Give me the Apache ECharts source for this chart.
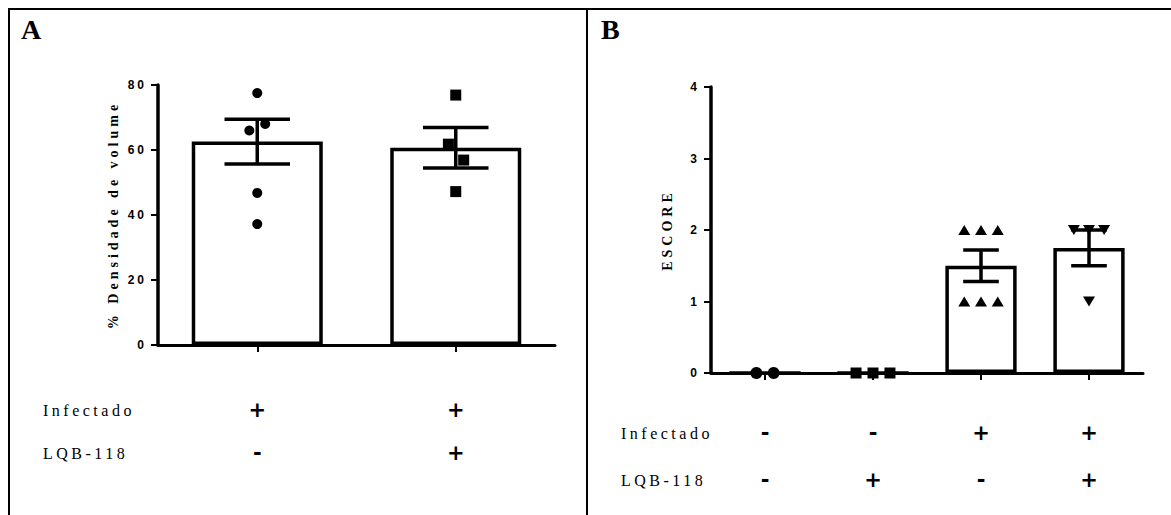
<!DOCTYPE html>
<html>
<head>
<meta charset="utf-8">
<script src="https://cdn.jsdelivr.net/npm/echarts@6/dist/echarts.min.js"></script>
<style>
  html, body { margin: 0; padding: 0; background: #fff; }
  #chart { width: 1171px; height: 515px; }
  /* tracked lettering, as in the figure */
  #chart text[style*="Liberation Sans"] { letter-spacing: 3px; }
  #chart text[style*="Liberation Serif"] { letter-spacing: 3.5px; }
  #chart text[style*="Liberation Serif"][style*="bold"] { letter-spacing: 4px; }
</style>
</head>
<body>
<div id="chart"></div>
<script>
// ---------- Panel A: % Densidade de volume ----------
const infectadoA = ['+', '+'];
const lqbA = ['-', '+'];
const meansA = [62.6, 60.7];
const semA = [6.9, 6.2];
const pointsA = [[77.5, 68, 66, 46.8, 37.2], [76.9, 61.8, 56.9, 47.2]];
const jitterA = [[0, 0.04, -0.04, 0, 0], [0, -0.037, 0.04, 0]];
const ticksA = [0, 20, 40, 60, 80];

// ---------- Panel B: ESCORE ----------
const infectadoB = ['-', '-', '+', '+'];
const lqbB = ['-', '+', '-', '+'];
const meansB = [0, 0, 1.5, 1.75];
const semB = [0, 0, 0.22, 0.25];
const pointsB = [[0, 0], [0, 0, 0], [2, 2, 2, 1, 1, 1], [2, 2, 2, 1]];
const jitterB = [[-0.08, 0.08], [-0.157, 0, 0.157], [-0.155, 0, 0.155, -0.155, 0, 0.155], [-0.14, 0, 0.14, 0]];
const ticksB = [0, 1, 2, 3, 4];

const rowLabels = ['Infectado', 'LQB-118'];

const categoriesA = infectadoA.map((s, i) => s + lqbA[i]);
const categoriesB = infectadoB.map((s, i) => s + lqbB[i]);

const black = '#000';

function errorBarItem(params, api) {
  const i = api.value(0), m = api.value(1), e = api.value(2);
  if (!e) return null;
  const hi = api.coord([i, m + e]);
  const lo = api.coord([i, m - e]);
  const half = api.size([1, 0])[0] * 0.165;
  const st = { stroke: black, lineWidth: 3.5 };
  return {
    type: 'group',
    children: [
      { type: 'line', shape: { x1: hi[0], y1: hi[1], x2: lo[0], y2: lo[1] }, style: st },
      { type: 'line', shape: { x1: hi[0] - half, y1: hi[1], x2: hi[0] + half, y2: hi[1] }, style: st },
      { type: 'line', shape: { x1: lo[0] - half, y1: lo[1], x2: lo[0] + half, y2: lo[1] }, style: st }
    ]
  };
}

function categoryAxis(gridIndex, cats, rowTop, rowBottom, margin, lineHeight) {
  return {
    gridIndex, type: 'category', data: cats, position: 'bottom',
    axisLine: { show: true, onZero: false, lineStyle: { color: black, width: 3 } },
    axisTick: { show: true, alignWithLabel: true, length: 7, lineStyle: { color: black, width: 2 } },
    axisLabel: {
      interval: 0, margin, lineHeight,
      fontSize: 21, fontWeight: 'bold', fontFamily: 'DejaVu Sans', color: black,
      formatter: (v, i) => rowTop[i] + '\n' + rowBottom[i]
    },
    splitLine: { show: false }
  };
}

function jitterAxis(gridIndex, n) {
  return {
    gridIndex, type: 'value', min: -0.5, max: n - 0.5, show: false,
    axisLine: { onZero: false }, splitLine: { show: false }
  };
}

function valueAxis(gridIndex, ticks, name, nameGap) {
  return {
    gridIndex, type: 'value', position: 'left',
    min: ticks[0], max: ticks[ticks.length - 1], interval: ticks[1] - ticks[0],
    name, nameLocation: 'middle', nameGap,
    nameTextStyle: { fontFamily: 'Liberation Serif', fontWeight: 'bold', fontSize: 14, color: black },
    axisLine: { show: true, onZero: false, lineStyle: { color: black, width: 3.5 } },
    axisTick: { show: true, length: 7, lineStyle: { color: black, width: 2 } },
    axisLabel: { fontFamily: 'Liberation Sans', fontWeight: 'bold', fontSize: 12, color: black, margin: 11 },
    splitLine: { show: false }
  };
}

function barSeries(xi, yi, means) {
  return {
    type: 'bar', xAxisIndex: xi, yAxisIndex: yi, data: means, barWidth: '66%', z: 2,
    itemStyle: { color: '#fff', borderColor: black, borderWidth: 3.5 },
    emphasis: { disabled: true }
  };
}

function errorSeries(xi, yi, means, sems) {
  return {
    type: 'custom', xAxisIndex: xi, yAxisIndex: yi, z: 3,
    renderItem: errorBarItem,
    encode: { x: 0, y: 1 },
    data: means.map((m, i) => [i, m, sems[i]])
  };
}

function dotSeries(xi, yi, g, values, jitter, symbol, size, rotate) {
  return {
    type: 'scatter', xAxisIndex: xi, yAxisIndex: yi, z: 4, clip: false,
    symbol, symbolSize: size, symbolRotate: rotate || 0,
    itemStyle: { color: black, opacity: 1 },
    emphasis: { disabled: true },
    data: values.map((v, k) => [g + jitter[k], v])
  };
}

const chart = echarts.init(document.getElementById('chart'), null, { renderer: 'svg' });

chart.setOption({
  animation: false,
  backgroundColor: '#fff',
  grid: [
    { left: 158, top: 85, width: 397, height: 260 },
    { left: 711, top: 87, width: 432, height: 286 }
  ],
  xAxis: [
    categoryAxis(0, categoriesA, infectadoA, lqbA, 43, 43),
    jitterAxis(0, categoriesA.length),
    categoryAxis(1, categoriesB, infectadoB, lqbB, 36, 47),
    jitterAxis(1, categoriesB.length)
  ],
  yAxis: [
    valueAxis(0, ticksA, '% Densidade de volume', 38),
    valueAxis(1, ticksB, 'ESCORE', 37)
  ],
  series: [
    barSeries(0, 0, meansA),
    errorSeries(0, 0, meansA, semA),
    dotSeries(1, 0, 0, pointsA[0], jitterA[0], 'circle', 10),
    dotSeries(1, 0, 1, pointsA[1], jitterA[1], 'rect', 11),

    barSeries(2, 1, meansB),
    errorSeries(2, 1, meansB, semB),
    dotSeries(3, 1, 0, pointsB[0], jitterB[0], 'circle', 12),
    dotSeries(3, 1, 1, pointsB[1], jitterB[1], 'rect', 11),
    dotSeries(3, 1, 2, pointsB[2], jitterB[2], 'triangle', [12, 10]),
    dotSeries(3, 1, 3, pointsB[3], jitterB[3], 'triangle', [12, 10], 180)
  ],
  graphic: [
    // frame and divider
    { type: 'line', silent: true, shape: { x1: 8, y1: 9, x2: 1171, y2: 9 }, style: { stroke: black, lineWidth: 2 } },
    { type: 'line', silent: true, shape: { x1: 9, y1: 8, x2: 9, y2: 515 }, style: { stroke: black, lineWidth: 2 } },
    { type: 'line', silent: true, shape: { x1: 587, y1: 8, x2: 587, y2: 515 }, style: { stroke: black, lineWidth: 2 } },
    // panel letters
    { type: 'text', silent: true, x: 21, y: 29, style: { text: 'A', fill: black, font: 'bold 28px "Liberation Serif"', textVerticalAlign: 'middle' } },
    { type: 'text', silent: true, x: 601, y: 29, style: { text: 'B', fill: black, font: 'bold 28px "Liberation Serif"', textVerticalAlign: 'middle' } },
    // condition row labels
    { type: 'text', silent: true, x: 43, y: 410, style: { text: rowLabels[0], fill: black, font: '16px "Liberation Serif"', textVerticalAlign: 'middle' } },
    { type: 'text', silent: true, x: 43, y: 453, style: { text: rowLabels[1], fill: black, font: '16px "Liberation Serif"', textVerticalAlign: 'middle' } },
    { type: 'text', silent: true, x: 621, y: 433, style: { text: rowLabels[0], fill: black, font: '16px "Liberation Serif"', textVerticalAlign: 'middle' } },
    { type: 'text', silent: true, x: 621, y: 480, style: { text: rowLabels[1], fill: black, font: '16px "Liberation Serif"', textVerticalAlign: 'middle' } }
  ]
});
</script>
</body>
</html>
